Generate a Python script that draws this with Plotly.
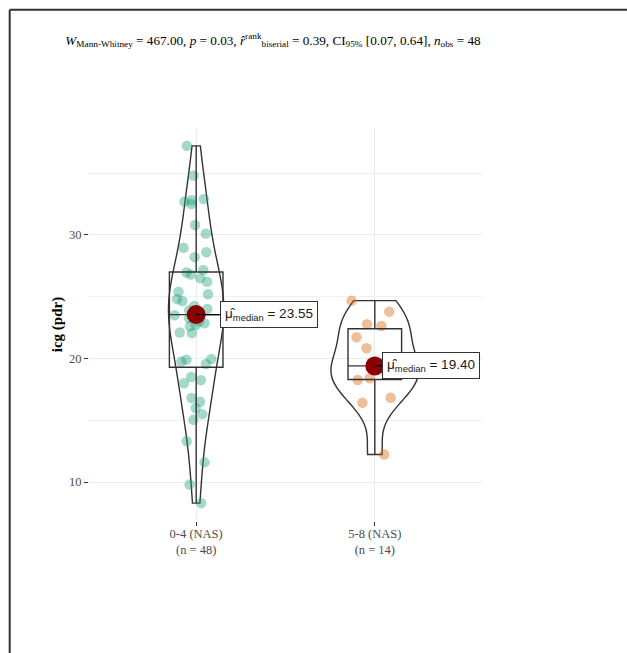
import numpy as np
import plotly.graph_objects as go

# ---- data -------------------------------------------------------------
groups = ["0-4 (NAS)", "5-8 (NAS)"]

icg_nas_0_4 = [
    8.3, 9.8, 11.6, 13.3, 15.05, 15.5, 16.0, 16.5, 16.8, 18.0, 18.25, 18.5,
    19.55, 19.75, 19.9, 19.95, 22.05, 22.1, 22.6, 22.7, 22.85, 23.0, 23.25, 23.5,
    23.6, 23.9, 24.0, 24.25, 24.65, 24.8, 25.2, 25.4, 26.2, 26.5, 26.8, 26.95,
    27.15, 28.2, 28.6, 28.95, 30.1, 30.8, 32.5, 32.7, 32.8, 32.9, 34.8, 37.2,
]
icg_nas_5_8 = [
    12.24, 16.42, 16.83, 18.26, 18.4, 18.9, 19.2, 19.6, 20.83, 21.72,
    22.63, 22.77, 23.79, 24.68,
]

w_stat = 467.00
p_value = 0.03
r_rank_biserial = 0.39
ci95 = [0.07, 0.64]
n_obs = 48

point_colors = ["#1B9E77", "#D95F02"]
violin_widths = [0.31, 0.49]
bw_adjust = [1.25, 1.0]
point_jitter = [0.95, 0.6]

# ---- layout geometry --------------------------------------------------
W, H = 627, 653
ML, MR, MT, MB = 89, 145, 128, 132
PW, PH = W - ML - MR, H - MT - MB


def paper_x(px):
    return (px - ML) / PW


def paper_y(py):
    return (H - MB - py) / PH


def nrd0(v):
    v = np.asarray(v, float)
    q1, q3 = np.percentile(v, [25, 75])
    lo = min(np.std(v, ddof=1), (q3 - q1) / 1.34)
    return 0.9 * lo * len(v) ** -0.2


def box_stats(v):
    v = np.asarray(v, float)
    q1, med, q3 = np.percentile(v, [25, 50, 75])
    iqr = q3 - q1
    lower = v[v >= q1 - 1.5 * iqr].min()
    upper = v[v <= q3 + 1.5 * iqr].max()
    return q1, med, q3, lower, upper


series = [icg_nas_0_4, icg_nas_5_8]
fig = go.Figure()

line_col = "#333333"
medians = []
for i, (vals, col) in enumerate(zip(series, point_colors)):
    pos = i + 1
    fig.add_trace(go.Violin(
        x=[pos] * len(vals), y=vals,
        width=violin_widths[i], scalemode="width", spanmode="hard",
        bandwidth=nrd0(vals) * bw_adjust[i], side="both",
        fillcolor="rgba(0,0,0,0)", line=dict(color=line_col, width=1.4),
        points="all", pointpos=0, jitter=point_jitter[i],
        marker=dict(color=col, opacity=0.4, size=10.5, line=dict(width=0)),
        box_visible=False, meanline_visible=False,
        hoverinfo="skip", showlegend=False,
    ))
    q1, med, q3, lo, hi = box_stats(vals)
    medians.append(med)
    fig.add_trace(go.Box(
        x=[pos], q1=[q1], median=[med], q3=[q3],
        lowerfence=[lo], upperfence=[hi],
        width=0.3, whiskerwidth=0, fillcolor="rgba(0,0,0,0)",
        line=dict(color=line_col, width=1.4), boxpoints=False,
        hoverinfo="skip", showlegend=False,
    ))

fig.add_trace(go.Scatter(
    x=[1, 2], y=medians, mode="markers",
    marker=dict(color="#8B0000", size=19, line=dict(width=0)),
    hoverinfo="skip", showlegend=False,
))

annotations = []
label_offsets = [24, 7]
for i, med in enumerate(medians):
    annotations.append(dict(
        x=i + 1, y=med, xref="x", yref="y",
        text=f"μ̂<sub>median</sub> = {med:.2f}",
        showarrow=True, arrowhead=0, arrowwidth=1.3, arrowcolor="#000000",
        ax=label_offsets[i], ay=0, xanchor="left", yanchor="middle",
        standoff=0,
        font=dict(family="Liberation Sans, Arial, sans-serif", size=13.5, color="#1a1a1a"),
        bgcolor="#ffffff", bordercolor="#333333", borderwidth=1, borderpad=4,
    ))

title_text = (
    f"<i>W</i><sub>Mann-Whitney</sub> = {w_stat:.2f}, <i>p</i> = {p_value:.2f}, "
    f"<i>r̂</i><sup>rank</sup><sub>biserial</sub> = {r_rank_biserial:.2f}, "
    f"CI<sub>95%</sub> [{ci95[0]:.2f}, {ci95[1]:.2f}], <i>n</i><sub>obs</sub> = {n_obs}"
)

all_vals = np.concatenate([np.asarray(s, float) for s in series])
ymin, ymax = all_vals.min(), all_vals.max()
pad = 0.05 * (ymax - ymin)

tick_text = [f"{g}<br>(n = {len(s)})" for g, s in zip(groups, series)]
serif = "Liberation Serif, Times New Roman, serif"

fig.update_layout(
    width=W, height=H,
    margin=dict(l=ML, r=MR, t=MT, b=MB, autoexpand=False),
    paper_bgcolor="#ffffff", plot_bgcolor="#ffffff",
    violinmode="overlay", boxmode="overlay",
    title=dict(
        text=title_text, x=273 / W, xanchor="center", xref="container",
        y=1 - 40 / H, yanchor="middle", yref="container",
        font=dict(family=serif, size=13.2, color="#000000"),
    ),
    xaxis=dict(
        range=[0.4, 2.6], tickmode="array", tickvals=[1, 2], ticktext=tick_text,
        showgrid=True, gridcolor="#ebebeb", gridwidth=1, zeroline=False,
        showline=False, ticks="outside", ticklen=4, tickcolor="#333333", tickwidth=1,
        ticklabelstandoff=-3,
        tickfont=dict(family=serif, size=12.5, color="#4d4d4d"),
    ),
    yaxis=dict(
        range=[ymin - pad, ymax + pad], tickmode="linear", tick0=0, dtick=10,
        showgrid=True, gridcolor="#ebebeb", gridwidth=1, zeroline=False,
        showline=False, ticks="outside", ticklen=4, tickcolor="#333333", tickwidth=1,
        tickfont=dict(family=serif, size=12.5, color="#4d4d4d"),
        minor=dict(tick0=0, dtick=5, showgrid=True, gridcolor="#f0f0f0", gridwidth=1, ticks=""),
        title=dict(text="<b>icg (pdr)</b>", font=dict(family=serif, size=15, color="#000000"),
                   standoff=2),
    ),
    annotations=annotations,
    shapes=[
        dict(type="line", xref="paper", yref="paper", layer="above",
             x0=paper_x(9.7), x1=paper_x(700), y0=paper_y(9.7), y1=paper_y(9.7),
             line=dict(color="#333333", width=2)),
        dict(type="line", xref="paper", yref="paper", layer="above",
             x0=paper_x(9.7), x1=paper_x(9.7), y0=paper_y(9.7), y1=paper_y(700),
             line=dict(color="#333333", width=2)),
    ],
)

fig.write_html("out.html")
